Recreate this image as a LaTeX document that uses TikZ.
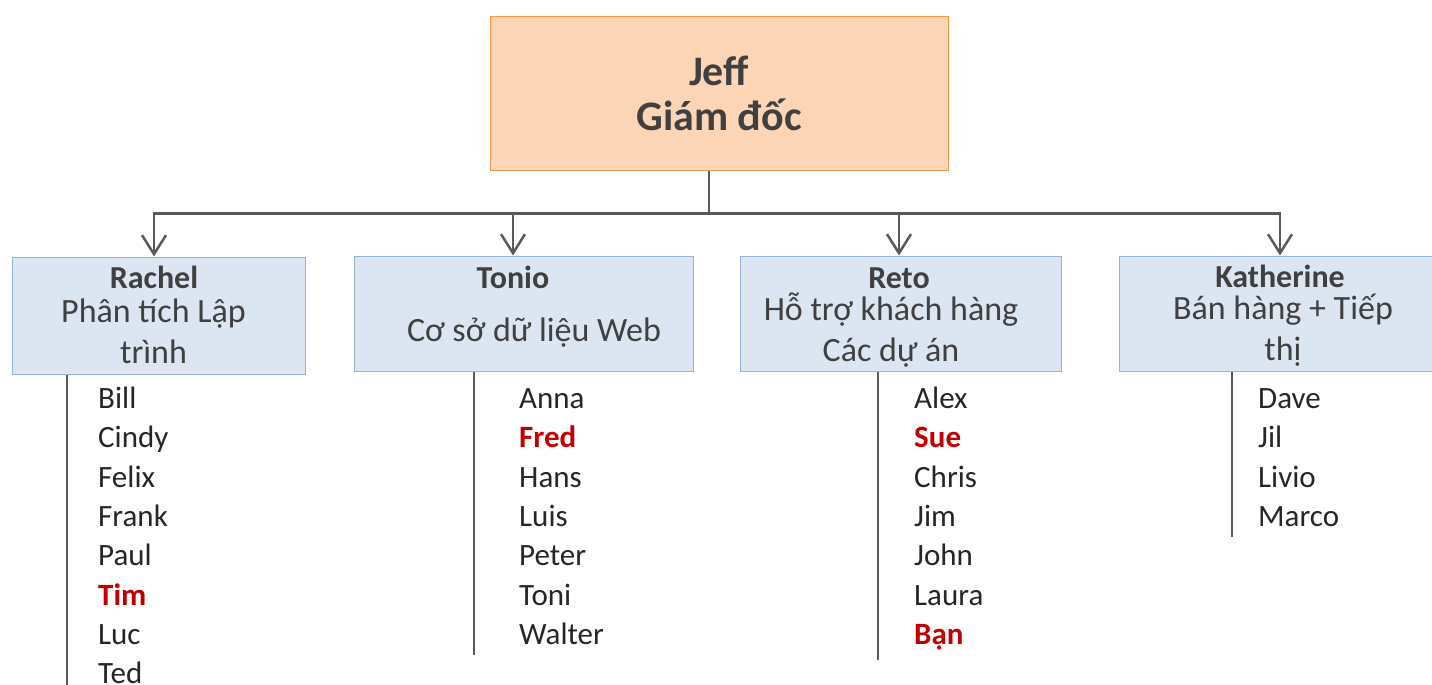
\documentclass[tikz,border=0pt]{standalone}
\usepackage{fontspec}
\setmainfont{Carlito}
\usetikzlibrary{arrows.meta,positioning}
\definecolor{jefffill}{HTML}{FBD5B5}
\definecolor{jeffline}{HTML}{F79646}
\definecolor{teamfill}{HTML}{DCE6F2}
\definecolor{teamline}{HTML}{95B3D7}
\definecolor{linegray}{HTML}{595959}
\definecolor{txtgray}{HTML}{404040}
\definecolor{hired}{HTML}{C00000}

\begin{document}
\begin{tikzpicture}[x=1pt,y=-1pt,
    boss/.style={draw=jeffline,fill=jefffill,line width=1pt,inner sep=0pt,text=txtgray,
      font=\fontsize{42}{45}\selectfont\bfseries,align=center},
    team/.style={draw=teamline,fill=teamfill,line width=1pt,inner sep=0pt},
    lead/.style={anchor=base,inner sep=0pt,text=txtgray,font=\fontsize{32}{38}\selectfont\bfseries},
    role/.style={inner sep=0pt,text=txtgray,align=center,font=\fontsize{34}{41}\selectfont},
    member/.style={anchor=base west,inner sep=0pt,text=black!85,font=\fontsize{31}{37}\selectfont},
    keyname/.style={member,text=hired,font=\fontsize{31}{37}\selectfont\bfseries},
    conn/.style={draw=linegray,line width=2.5pt,-{Straight Barb[length=19pt,width=24pt,line width=2.5pt]}},
    list/.style={draw=linegray,line width=2.5pt}]
    \useasboundingbox (0,0) rectangle (1432,685);
    \clip (0,0) rectangle (1432,685);

    \node[boss,minimum width=458,minimum height=153] (jeff) at (719,93.5) {Jeff\\Giám đốc};

    \node[team,minimum width=293,minimum height=117] (rachel) at (158.5,315.5) {};
    \node[team,minimum width=339,minimum height=115] (tonio) at (523.5,313.5) {};
    \node[team,minimum width=321,minimum height=115] (reto) at (900.5,313.5) {};
    \node[team,minimum width=326,minimum height=115] (katherine) at (1282,313.5) {};

    \node[lead] (rachelhead) at (154,288) {Rachel};
    \node[lead] (toniohead) at (513,288) {Tonio};
    \node[lead] (retohead) at (899,288) {Reto};
    \node[lead] (katherinehead) at (1280,287) {Katherine};

    \node[role] (rachelrole) at (153.5,331) {Phân tích Lập\\trình};
    \node[role,anchor=base] (toniorole) at (534,341) {Cơ sở dữ liệu Web};
    \node[role] (retorole) at (891,330) {Hỗ trợ khách hàng\\Các dự án};
    \node[role] (katherinerole) at (1283,330) {Bán hàng + Tiếp\\thị};

    % Jeff to the four teams
    \coordinate (trunk) at ([xshift=-10pt]jeff.south);
    \draw[conn] (trunk) -- ++(0,43) -| (rachelhead.north |- rachel.north);
    \draw[conn] (trunk) -- ++(0,43) -| (toniohead.north |- tonio.north);
    \draw[conn] (trunk) -- ++(0,43) -| (retohead.north |- reto.north);
    \draw[conn] (trunk) -- ++(0,43) -| (katherinehead.north |- katherine.north);

    % member lists
    \coordinate (rachelend) at (67,685);
    \coordinate (tonioend) at (474,655);
    \coordinate (retoend) at (878,660);
    \coordinate (katherineend) at (1232,537);
    \draw[list] (rachelend |- rachel.south) -- (rachelend);
    \draw[list] (tonioend |- tonio.south) -- (tonioend);
    \draw[list] (retoend |- reto.south) -- (retoend);
    \draw[list] (katherineend |- katherine.south) -- (katherineend);

    \foreach \who/\sty [count=\i] in {Bill/member,Cindy/member,Felix/member,Frank/member,
        Paul/member,Tim/keyname,Luc/member,Ted/member}
      \node[\sty] (rachel\i) at (98,{408.5+39.35*(\i-1)}) {\who};
    \foreach \who/\sty [count=\i] in {Anna/member,Fred/keyname,Hans/member,Luis/member,
        Peter/member,Toni/member,Walter/member}
      \node[\sty] (tonio\i) at (519,{408.5+39.35*(\i-1)}) {\who};
    \foreach \who/\sty [count=\i] in {Alex/member,Sue/keyname,Chris/member,Jim/member,
        John/member,Laura/member,Bạn/keyname}
      \node[\sty] (reto\i) at (914,{408.5+39.35*(\i-1)}) {\who};
    \foreach \who/\sty [count=\i] in {Dave/member,Jil/member,Livio/member,Marco/member}
      \node[\sty] (katherine\i) at (1258,{408.5+39.35*(\i-1)}) {\who};
  \end{tikzpicture}
\end{document}
